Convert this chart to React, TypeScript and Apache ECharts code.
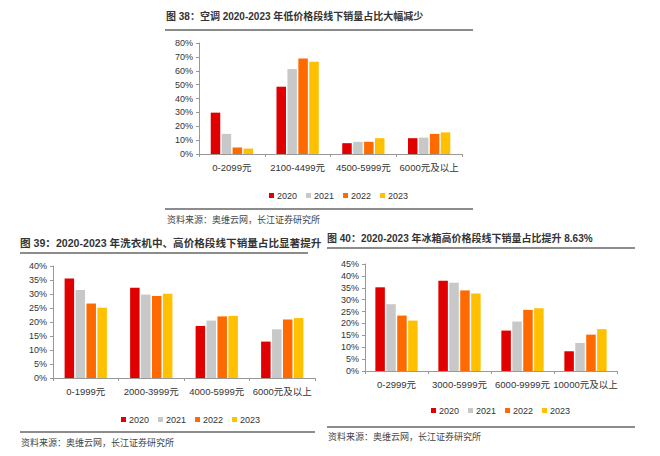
import React, { useEffect, useRef } from "react";
import * as echarts from "echarts";

const years = ["2020", "2021", "2022", "2023"];
const colors = ["#e00000", "#c8c8c8", "#ff6a00", "#ffc000"];

// 图38 空调
const acCats = ["0-2099元", "2100-4499元", "4500-5999元", "6000元及以上"];
const ac2020 = [29.8, 48.5, 7.8, 11.4];
const ac2021 = [14.5, 61.2, 8.8, 11.8];
const ac2022 = [4.7, 68.8, 8.8, 14.5];
const ac2023 = [3.9, 66.4, 11.4, 15.6];

// 图39 洗衣机
const wmCats = ["0-1999元", "2000-3999元", "4000-5999元", "6000元及以上"];
const wm2020 = [35.5, 32.2, 18.6, 13.0];
const wm2021 = [31.4, 29.8, 20.5, 17.4];
const wm2022 = [26.6, 29.3, 22.0, 20.9];
const wm2023 = [25.1, 30.1, 22.2, 21.4];

// 图40 冰箱
const rfCats = ["0-2999元", "3000-5999元", "6000-9999元", "10000元及以上"];
const rf2020 = [35.2, 38.0, 17.0, 8.3];
const rf2021 = [28.1, 37.1, 20.8, 11.8];
const rf2022 = [23.3, 33.9, 25.7, 15.3];
const rf2023 = [21.2, 32.6, 26.4, 17.6];

const titles = [
  "图 38：空调 2020-2023 年低价格段线下销量占比大幅减少",
  "图 39：2020-2023 年洗衣机中、高价格段线下销量占比显著提升",
  "图 40：2020-2023 年冰箱高价格段线下销量占比提升 8.63%",
];
const source = "资料来源：奥维云网，长江证券研究所";

const FONT = "'Liberation Sans', 'Noto Sans CJK SC', sans-serif";

const App = () => {
  const chartRef = useRef<HTMLDivElement>(null);

  useEffect(() => {
    if (!chartRef.current) return;
    const chart = echarts.init(chartRef.current, undefined, { renderer: "svg" });

    const groups = [
      { cats: acCats, data: [ac2020, ac2021, ac2022, ac2023], max: 80, interval: 10 },
      { cats: wmCats, data: [wm2020, wm2021, wm2022, wm2023], max: 40, interval: 5 },
      { cats: rfCats, data: [rf2020, rf2021, rf2022, rf2023], max: 45, interval: 5 },
    ];

    const grids = [
      { left: 199, right: 198, top: 43, bottom: 302 },
      { left: 53, right: 345, top: 266, bottom: 78 },
      { left: 365, right: 43, top: 264, bottom: 85 },
    ];

    const legendPos = [
      { left: 264, top: 186 },
      { left: 116, top: 410 },
      { left: 426, top: 401 },
    ];

    const header = [
      { x: 166, ty: 18, fs: 10, line1: [165, 473, 30], line2: [165, 473, 209], sy: 221 },
      { x: 20, ty: 245, fs: 10.6, line1: [20, 308, 253], line2: [20, 315, 432], sy: 444 },
      { x: 327, ty: 240, fs: 10, line1: [327, 635, 248], line2: [327, 635, 427], sy: 438 },
    ];

    const graphic: any[] = [];
    header.forEach((h, i) => {
      graphic.push({
        type: "text",
        left: h.x,
        top: h.ty - 7,
        style: { text: titles[i], font: `bold ${h.fs}px ${FONT}`, fill: "#333" },
      });
      graphic.push({
        type: "line",
        shape: { x1: h.line1[0], y1: h.line1[2], x2: h.line1[1], y2: h.line1[2] },
        style: { stroke: "#666", lineWidth: 1.5 },
      });
      graphic.push({
        type: "line",
        shape: { x1: h.line2[0], y1: h.line2[2], x2: h.line2[1], y2: h.line2[2] },
        style: { stroke: "#666", lineWidth: 1.5 },
      });
      graphic.push({
        type: "text",
        left: h.x + 1,
        top: h.sy - 6,
        style: { text: source, font: `9px ${FONT}`, fill: "#444" },
      });
    });

    const series: any[] = [];
    groups.forEach((g, gi) => {
      g.data.forEach((d, si) => {
        series.push({
          name: years[si],
          type: "bar",
          xAxisIndex: gi,
          yAxisIndex: gi,
          data: d,
          barWidth: 9.5,
          barGap: "15%",
          itemStyle: { color: colors[si] },
        });
      });
    });

    chart.setOption({
      animation: false,
      textStyle: { fontFamily: FONT },
      grid: grids,
      xAxis: groups.map((g, gi) => ({
        type: "category",
        gridIndex: gi,
        data: g.cats,
        axisLine: { lineStyle: { color: "#999" } },
        axisTick: { show: true, length: 3, lineStyle: { color: "#999" } },
        axisLabel: { fontSize: 9.5, color: "#333", margin: 9, interval: 0 },
      })),
      yAxis: groups.map((g, gi) => ({
        type: "value",
        gridIndex: gi,
        min: 0,
        max: g.max,
        interval: g.interval,
        axisLine: { show: true, lineStyle: { color: "#999" } },
        axisTick: { show: true, length: 3, lineStyle: { color: "#999" } },
        splitLine: { show: false },
        axisLabel: { fontSize: 9, color: "#333", margin: 6, formatter: "{value}%" },
      })),
      legend: legendPos.map((p) => ({
        ...p,
        data: years,
        icon: "rect",
        itemWidth: 5,
        itemHeight: 5,
        itemGap: 9,
        textStyle: { fontSize: 9, color: "#333", padding: [0, 0, 0, -2] },
      })),
      graphic,
      series,
    });

    return () => {
      chart.dispose();
    };
  }, []);

  return (
    <div
      ref={chartRef}
      style={{ position: "absolute", left: 0, top: 0, width: "660px", height: "456px", background: "#fff" }}
    />
  );
};

export default App;
